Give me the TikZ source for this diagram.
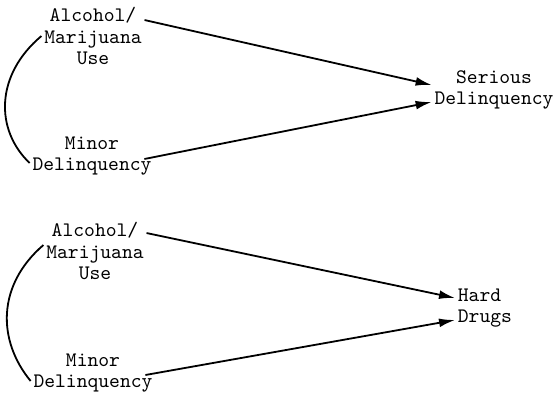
\documentclass[tikz,border=0pt]{standalone}
\usetikzlibrary{arrows.meta}
\begin{document}
\begin{tikzpicture}[x=0.5pt, y=-0.5pt, line width=0.9pt,
    every node/.style={font=\ttfamily\fontsize{10.3}{10.9}\selectfont, inner sep=1pt},
    var/.style={align=center},
    path/.style={-{Latex[length=8pt,width=4.4pt]}}]
    \useasboundingbox (0,0) rectangle (555,395);

    % upper model
    \node[var] at (93, 36)   (amu) {Alcohol/\\Marijuana\\Use};
    \node[var] at (92, 156)  (md)  {Minor\\Delinquency};
    \node[var] at (494, 90)  (sd)  {Serious\\Delinquency};

    \draw [path] ([yshift=-8pt]amu.north east) -- ([yshift=2.5pt]sd.west);
    \draw [path] ([xshift=-5pt, yshift=-1.5pt]md.east) -- ([yshift=-6pt]sd.west);
    \draw (amu.west) .. controls (-5,75) and (-5,130) .. ([yshift=-3.5pt]md.west);

    % lower model
    \node[var] at (95, 251)  (amu2) {Alcohol/\\Marijuana\\Use};
    \node[var] at (93, 373)  (md2)  {Minor\\Delinquency};
    \node[var, align=left, anchor=west] at (455, 308) (hd) {Hard\\Drugs};

    \draw [path] ([yshift=-7pt]amu2.north east) -- ([yshift=5pt]hd.west);
    \draw [path] ([xshift=-5pt, yshift=-1pt]md2.east) -- ([yshift=-6pt]hd.west);
    \draw ([yshift=3pt]amu2.west) .. controls (-3,285) and (-3,340) .. ([yshift=-4pt]md2.west);
\end{tikzpicture}
\end{document}
